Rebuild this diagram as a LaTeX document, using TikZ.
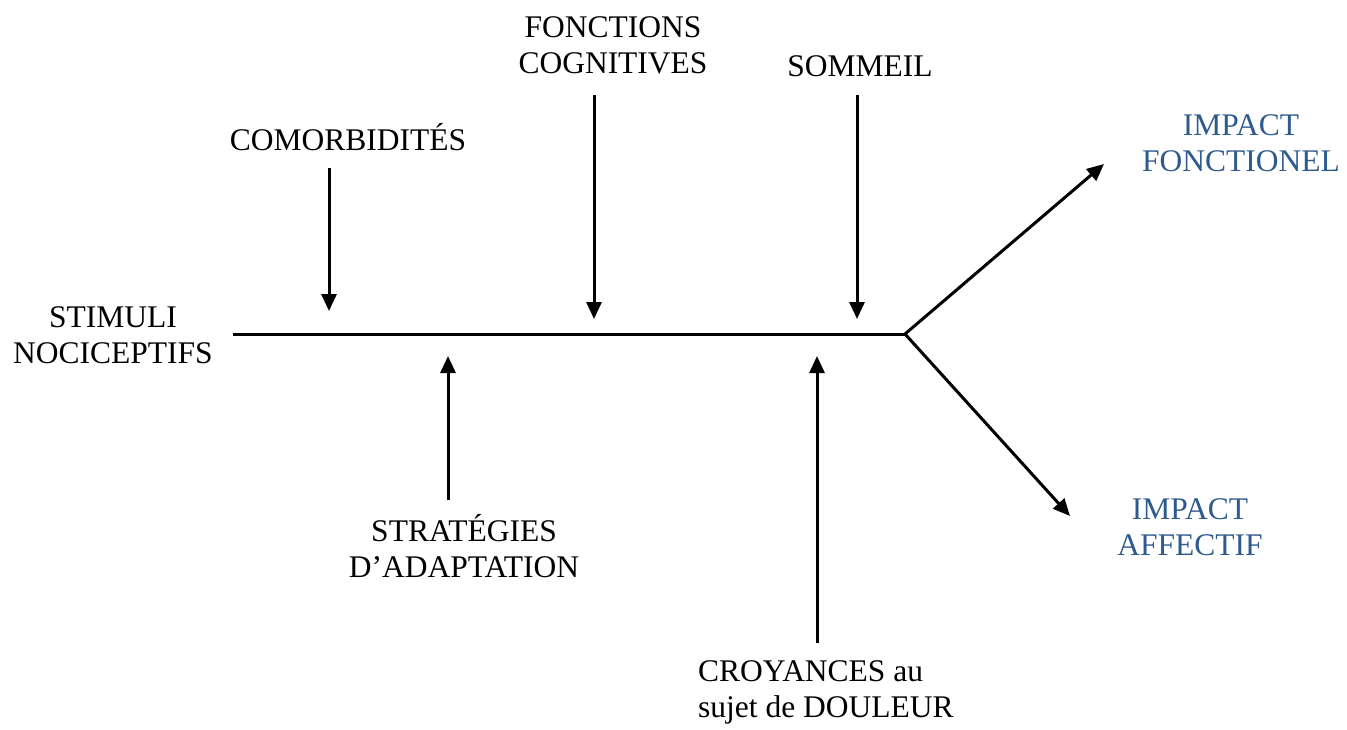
\documentclass[tikz,border=0pt]{standalone}
\usepackage{fontspec}
\setmainfont{Liberation Serif}
\usetikzlibrary{arrows.meta}
\definecolor{impblue}{HTML}{2F5A8E}
\begin{document}
\begin{tikzpicture}[x=1pt,y=-1pt,
  lbl/.style={font=\fontsize{31.5}{36}\selectfont, inner sep=0pt, align=center},
  line/.style={line width=3pt},
  arr/.style={line width=3pt,-{Triangle[width=15pt,length=17pt]}}]
\useasboundingbox (0,0) rectangle (1347,729);
% main spine
\coordinate (s0) at (233,334);
\coordinate (s1) at (905,334);
\draw[line] (s0) -- (s1);
% labels
\node[lbl] (stim) at (113,335) {STIMULI\\NOCICEPTIFS};
\node[lbl] (comor) at (348,137) {COMORBIDITÉS};
\node[lbl] (fonc) at (613,45) {FONCTIONS\\COGNITIVES};
\node[lbl] (somm) at (860,66) {SOMMEIL};
\node[lbl] (strat) at (464,546) {STRATÉGIES\\D’ADAPTATION};
\node[lbl, align=left, anchor=west] (croy) at (698,692) {CROYANCES au\\sujet de DOULEUR};
\node[lbl, text=impblue] (ifonc) at (1241,143) {IMPACT\\FONCTIONEL};
\node[lbl, text=impblue] (iaff) at (1190,527) {IMPACT\\AFFECTIF};
% arrow endpoints
\coordinate (c0) at (329,168); \coordinate (c1) at (329,311);
\coordinate (f0) at (594,95);  \coordinate (f1) at (594,319);
\coordinate (m0) at (857,95);  \coordinate (m1) at (857,319);
\coordinate (t0) at (448,500); \coordinate (t1) at (448,356);
\coordinate (r0) at (817,643); \coordinate (r1) at (817,356);
\coordinate (e1) at (1104,164);
\coordinate (e2) at (1070,516);
\draw[arr] (c0) -- (c1);
\draw[arr] (f0) -- (f1);
\draw[arr] (m0) -- (m1);
\draw[arr] (t0) -- (t1);
\draw[arr] (r0) -- (r1);
\draw[arr] (s1) -- (e1);
\draw[arr] (s1) -- (e2);
\end{tikzpicture}
\end{document}
